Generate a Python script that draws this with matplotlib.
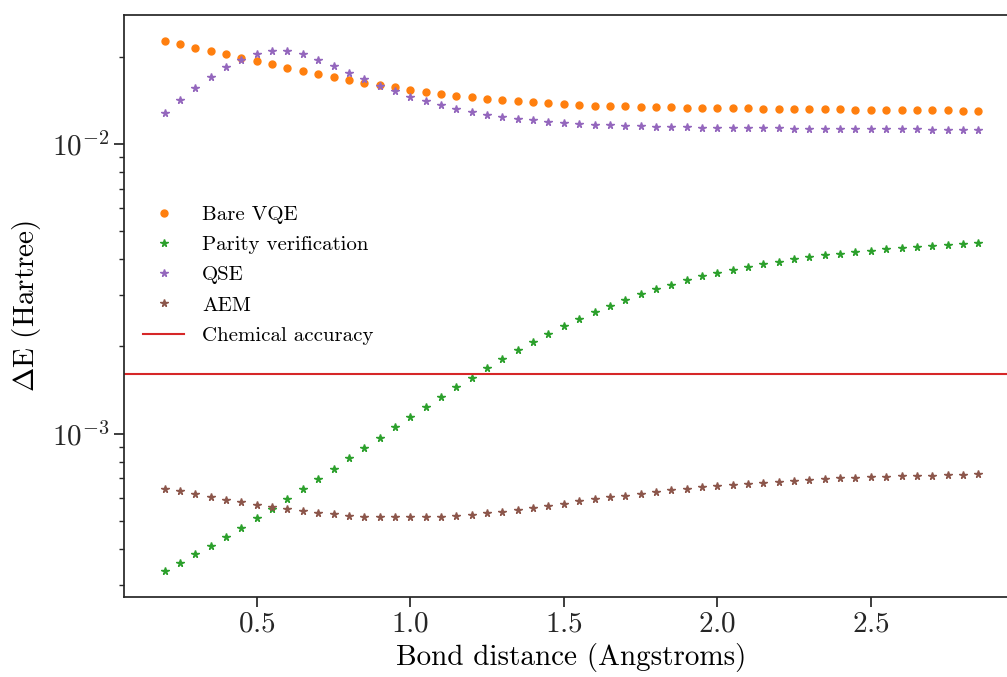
import numpy as np
from matplotlib import pyplot as plt

# bond distances, 0.2 .. 2.85 step 0.05
bond_distance = [0.20, 0.25, 0.30, 0.35, 0.40, 0.45, 0.50, 0.55, 0.60, 0.65,
                 0.70, 0.75, 0.80, 0.85, 0.90, 0.95, 1.00, 1.05, 1.10, 1.15,
                 1.20, 1.25, 1.30, 1.35, 1.40, 1.45, 1.50, 1.55, 1.60, 1.65,
                 1.70, 1.75, 1.80, 1.85, 1.90, 1.95, 2.00, 2.05, 2.10, 2.15,
                 2.20, 2.25, 2.30, 2.35, 2.40, 2.45, 2.50, 2.55, 2.60, 2.65,
                 2.70, 2.75, 2.80, 2.85]

bare_vqe = [0.02263, 0.02210, 0.02152, 0.02095, 0.02041, 0.01988, 0.01935, 0.01885, 0.01836, 0.01793,
            0.01751, 0.01704, 0.01669, 0.01629, 0.01595, 0.01570, 0.01541, 0.01512, 0.01493, 0.01469,
            0.01450, 0.01435, 0.01416, 0.01404, 0.01393, 0.01382, 0.01373, 0.01363, 0.01357, 0.01353,
            0.01349, 0.01346, 0.01342, 0.01339, 0.01336, 0.01336, 0.01331, 0.01328, 0.01328, 0.01325,
            0.01325, 0.01321, 0.01321, 0.01318, 0.01318, 0.01315, 0.01315, 0.01315, 0.01310, 0.01310,
            0.01307, 0.01307, 0.01304, 0.01304]

parity = [3.364e-4, 3.585e-4, 3.829e-4, 4.090e-4, 4.395e-4, 4.735e-4, 5.098e-4, 5.508e-4, 5.943e-4, 6.436e-4,
          6.968e-4, 7.568e-4, 8.214e-4, 8.917e-4, 9.656e-4, 1.052e-3, 1.139e-3, 1.236e-3, 1.338e-3, 1.445e-3,
          1.561e-3, 1.685e-3, 1.809e-3, 1.939e-3, 2.071e-3, 2.214e-3, 2.353e-3, 2.496e-3, 2.630e-3, 2.767e-3,
          2.902e-3, 3.027e-3, 3.150e-3, 3.270e-3, 3.383e-3, 3.493e-3, 3.586e-3, 3.684e-3, 3.773e-3, 3.851e-3,
          3.925e-3, 3.998e-3, 4.062e-3, 4.128e-3, 4.183e-3, 4.227e-3, 4.284e-3, 4.329e-3, 4.374e-3, 4.409e-3,
          4.444e-3, 4.479e-3, 4.516e-3, 4.551e-3]

qse = [0.01280, 0.01416, 0.01557, 0.01700, 0.01840, 0.01956, 0.02046, 0.02095, 0.02090, 0.02041,
       0.01956, 0.01859, 0.01764, 0.01673, 0.01591, 0.01521, 0.01458, 0.01404, 0.01360, 0.01325,
       0.01294, 0.01263, 0.01243, 0.01224, 0.01207, 0.01195, 0.01186, 0.01176, 0.01167, 0.01160,
       0.01154, 0.01151, 0.01148, 0.01145, 0.01142, 0.01139, 0.01139, 0.01136, 0.01136, 0.01133,
       0.01133, 0.01130, 0.01130, 0.01130, 0.01127, 0.01127, 0.01127, 0.01124, 0.01124, 0.01124,
       0.01121, 0.01121, 0.01121, 0.01121]

aem = [6.457e-4, 6.320e-4, 6.185e-4, 6.040e-4, 5.916e-4, 5.790e-4, 5.685e-4, 5.577e-4, 5.476e-4, 5.390e-4,
       5.334e-4, 5.262e-4, 5.209e-4, 5.167e-4, 5.151e-4, 5.139e-4, 5.139e-4, 5.139e-4, 5.167e-4, 5.192e-4,
       5.250e-4, 5.304e-4, 5.360e-4, 5.446e-4, 5.520e-4, 5.609e-4, 5.712e-4, 5.835e-4, 5.962e-4, 6.026e-4,
       6.088e-4, 6.185e-4, 6.270e-4, 6.370e-4, 6.457e-4, 6.525e-4, 6.593e-4, 6.666e-4, 6.719e-4, 6.773e-4,
       6.828e-4, 6.882e-4, 6.915e-4, 6.970e-4, 7.010e-4, 7.026e-4, 7.066e-4, 7.105e-4, 7.123e-4, 7.139e-4,
       7.162e-4, 7.195e-4, 7.218e-4, 7.237e-4]

chemical_accuracy = 1.6e-3


def setup_style():
    # computer modern look, like a latex rendered figure
    plt.rcParams['font.family'] = 'serif'
    plt.rcParams['font.serif'] = ['cmr10', 'DejaVu Serif']
    plt.rcParams['mathtext.fontset'] = 'cm'
    plt.rcParams['axes.formatter.use_mathtext'] = True
    plt.rcParams['axes.unicode_minus'] = False
    plt.rcParams['axes.linewidth'] = 1.25
    plt.rcParams['axes.edgecolor'] = '#262626'
    for ax_name in ('xtick', 'ytick'):
        plt.rcParams[ax_name + '.major.size'] = 7
        plt.rcParams[ax_name + '.major.width'] = 1.25
        plt.rcParams[ax_name + '.minor.size'] = 3.5
        plt.rcParams[ax_name + '.minor.width'] = 1.0
        plt.rcParams[ax_name + '.color'] = '#262626'
        plt.rcParams[ax_name + '.labelsize'] = 21


def main():
    setup_style()
    fig = plt.figure(figsize=(10.07, 6.77), dpi=100)
    # axes runs past the right border, the original was cropped there
    ax = fig.add_axes([0.1231, 0.1182, 0.8888, 0.8597])

    xs = np.array(bond_distance)
    ax.plot(xs, bare_vqe, 'o', color='#ff7f0e', markersize=5, label='Bare VQE')
    ax.plot(xs, parity, '*', color='#2ca02c', markersize=5.5, label='Parity verification')
    ax.plot(xs, qse, '*', color='#9467bd', markersize=5.5, label='QSE')
    ax.plot(xs, aem, '*', color='#8c564b', markersize=5.5, label='AEM')
    ax.axhline(chemical_accuracy, color='#d62728', linewidth=1.5, label='Chemical accuracy')

    ax.set_yscale('log')
    ax.set_xticks([0.5, 1.0, 1.5, 2.0, 2.5])
    ax.set_xlabel('Bond distance (Angstroms)', fontsize=21, labelpad=4)
    ax.set_ylabel(r'$\Delta$E (Hartree)', fontsize=21, labelpad=6)

    ax.legend(loc='center left', bbox_to_anchor=(0.0, 0.553), frameon=False,
              fontsize=15, borderaxespad=0.5, labelspacing=0.56, handletextpad=0.85)

    fig.savefig('out.png', dpi=100)


if __name__ == '__main__':
    main()
